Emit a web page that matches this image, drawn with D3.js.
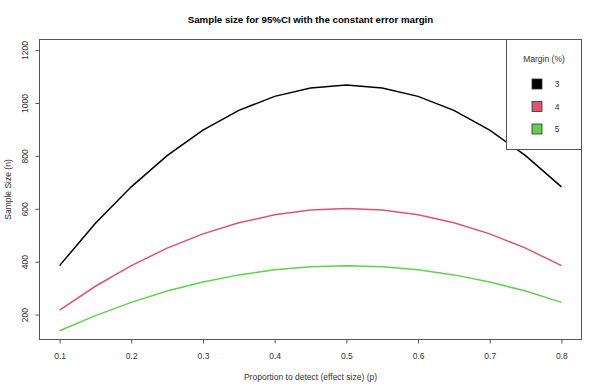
<!DOCTYPE html>
<html>
<head>
<meta charset="utf-8">
<script src="https://cdn.jsdelivr.net/npm/d3@7"></script>
<style>
  body { margin: 0; background: #fff; }
  svg { display: block; font-family: "Liberation Sans", Arial, sans-serif; }
</style>
</head>
<body>
<svg id="chart" width="602" height="389"></svg>
<script>
// proportion to detect (p)
var pValues = [0.1, 0.15, 0.2, 0.25, 0.3, 0.35, 0.4, 0.45, 0.5, 0.55, 0.6, 0.65, 0.7, 0.75, 0.8];
// sample size for each margin
var n3 = [385, 545, 683, 801, 897, 972, 1025, 1057, 1068, 1057, 1025, 972, 897, 801, 683];
var n4 = [217, 307, 385, 451, 505, 547, 577, 595, 601, 595, 577, 547, 505, 451, 385];
var n5 = [139, 196, 246, 289, 323, 350, 369, 381, 385, 381, 369, 350, 323, 289, 246];
var margins = ["3", "4", "5"];
var colors = ["#000000", "#DF536B", "#61D04F"];
var xTicks = [0.1, 0.2, 0.3, 0.4, 0.5, 0.6, 0.7, 0.8];
var yTicks = [200, 400, 600, 800, 1000, 1200];

var svg = d3.select('#chart');
var box = { left: 39.5, right: 581.5, top: 39.5, bottom: 339.5 };

var x = d3.scaleLinear().domain([0.072, 0.828]).range([box.left, box.right]);
var y = d3.scaleLinear().domain([105.7, 1240]).range([box.bottom, box.top]);

var series = [n3, n4, n5];

var line = d3.line()
    .x(function(d, i) { return x(pValues[i]); })
    .y(function(d) { return y(d); });

// lines
series.forEach(function(s, k) {
  svg.append('path')
    .datum(s)
    .attr('d', line)
    .attr('fill', 'none')
    .attr('stroke', colors[k])
    .attr('stroke-width', 1.5);
});

// plot box
svg.append('rect')
  .attr('x', box.left).attr('y', box.top)
  .attr('width', box.right - box.left).attr('height', box.bottom - box.top)
  .attr('fill', 'none').attr('stroke', '#555').attr('stroke-width', 1);

// x axis
var xAxis = svg.append('g')
  .attr('transform', 'translate(0,' + box.bottom + ')')
  .call(d3.axisBottom(x).tickValues(xTicks).tickSize(4).tickSizeOuter(0).tickFormat(d3.format('.1f')));
xAxis.select('.domain').remove();
xAxis.selectAll('line').attr('stroke', '#555');
xAxis.selectAll('text').attr('font-size', 8.5).attr('fill', '#333').attr('dy', '1.5em');

// y axis
var yAxis = svg.append('g')
  .attr('transform', 'translate(' + box.left + ',0)')
  .call(d3.axisLeft(y).tickValues(yTicks).tickSize(4).tickSizeOuter(0).tickFormat(d3.format('d')));
yAxis.select('.domain').remove();
yAxis.selectAll('line').attr('stroke', '#555');
yAxis.selectAll('text')
  .attr('font-size', 8.5).attr('fill', '#333')
  .attr('x', null).attr('dy', null)
  .attr('text-anchor', 'middle')
  .attr('transform', 'translate(-14,0) rotate(-90)')
  .attr('dominant-baseline', 'middle');

// title
svg.append('text')
  .attr('x', 310.5).attr('y', 23)
  .attr('text-anchor', 'middle')
  .attr('font-size', 9.7).attr('font-weight', 'bold')
  .text('Sample size for 95%CI with the constant error margin');

// axis labels
svg.append('text')
  .attr('x', 310.5).attr('y', 380)
  .attr('text-anchor', 'middle')
  .attr('font-size', 8.5).attr('fill', '#333')
  .text('Proportion to detect (effect size) (p)');

svg.append('text')
  .attr('transform', 'translate(11,' + ((box.top + box.bottom) / 2) + ') rotate(-90)')
  .attr('text-anchor', 'middle')
  .attr('font-size', 8.5).attr('fill', '#333')
  .text('Sample Size (n)');

// legend
var lg = svg.append('g');
lg.append('rect')
  .attr('x', 506.5).attr('y', box.top)
  .attr('width', box.right - 506.5).attr('height', 149.5 - box.top)
  .attr('fill', '#fff').attr('stroke', '#555');
lg.append('text')
  .attr('x', 544).attr('y', 62)
  .attr('text-anchor', 'middle')
  .attr('font-size', 8.5).attr('fill', '#333')
  .text('Margin (%)');
margins.forEach(function(m, k) {
  var cy = 84 + k * 22.5;
  lg.append('rect')
    .attr('x', 532).attr('y', cy - 5)
    .attr('width', 10).attr('height', 10)
    .attr('fill', colors[k]).attr('stroke', '#333').attr('stroke-width', 0.8);
  lg.append('text')
    .attr('x', 557).attr('y', cy + 3)
    .attr('text-anchor', 'middle')
    .attr('font-size', 8.5).attr('fill', '#333')
    .text(m);
});
</script>
</body>
</html>
